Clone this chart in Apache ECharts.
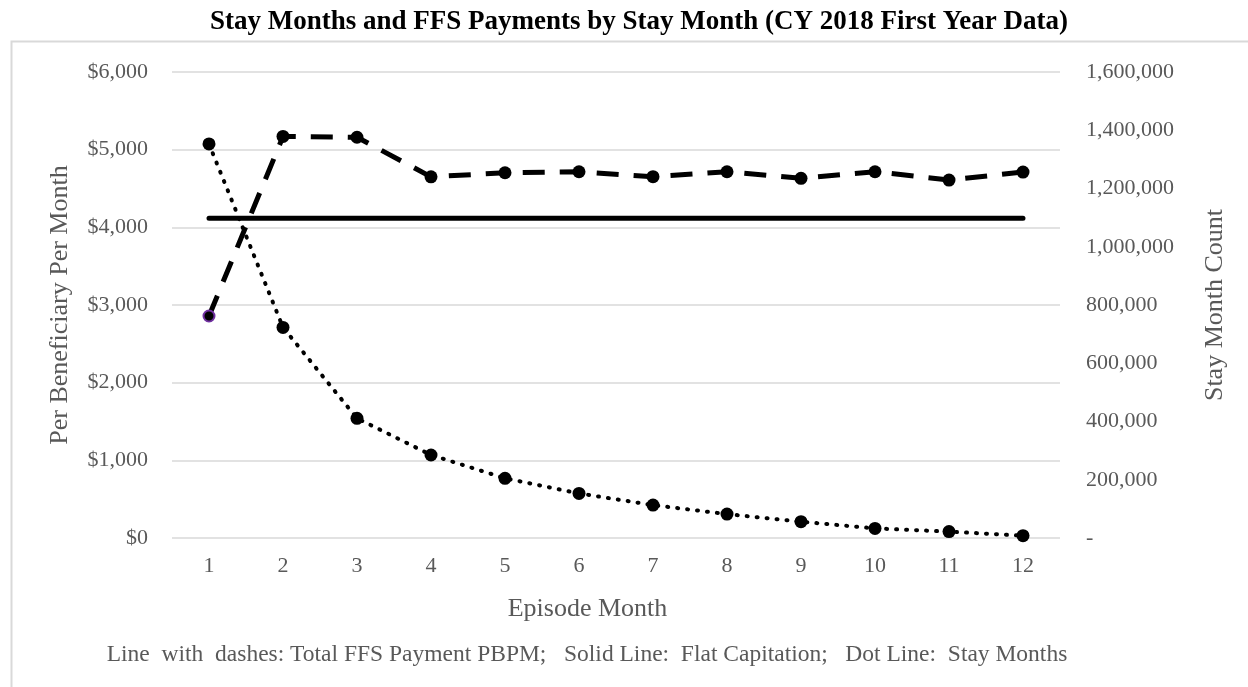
<!DOCTYPE html>
<html>
<head>
<meta charset="utf-8">
<script src="https://cdn.jsdelivr.net/npm/echarts@6/dist/echarts.min.js"></script>
<style>
html,body{margin:0;padding:0;background:#fff;}
#chart{width:1248px;height:687px;}
</style>
</head>
<body>
<div id="chart"></div>
<script>
const months = ['1','2','3','4','5','6','7','8','9','10','11','12'];
const ffsPayment = [2858, 5170, 5160, 4650, 4703, 4716, 4652, 4716, 4631, 4716, 4609, 4712];
const flatCapitation = [4116, 4116, 4116, 4116, 4116, 4116, 4116, 4116, 4116, 4116, 4116, 4116];
const stayMonths = [1353000, 723000, 411000, 285000, 205000, 153000, 113000, 82000, 56000, 33000, 22000, 8000];
const leftTicks = {min: 0, max: 6000, interval: 1000};
const rightTicks = {min: 0, max: 1600000, interval: 200000};

const FONT = '"Liberation Serif", "Times New Roman", serif';
const GRAY = '#595959';

const chart = echarts.init(document.getElementById('chart'), null, {renderer: 'canvas'});
chart.setOption({
  animation: false,
  backgroundColor: '#ffffff',
  title: {
    text: 'Stay Months and FFS Payments by Stay Month (CY 2018 First Year Data)',
    left: 634, top: 4, textAlign: 'center',
    textStyle: {fontFamily: FONT, fontWeight: 'bold', fontSize: 27, color: '#000'}
  },
  graphic: [
    {type: 'rect', silent: true, z: -10,
     shape: {x: 11.5, y: 41.5, width: 1400, height: 800},
     style: {fill: 'none', stroke: '#d9d9d9', lineWidth: 2}},
    {type: 'text', silent: true,
     style: {
       text: 'Line  with  dashes: Total FFS Payment PBPM;   Solid Line:  Flat Capitation;   Dot Line:  Stay Months',
       x: 587, y: 655, align: 'center', verticalAlign: 'middle',
       font: '23.5px ' + FONT, fill: GRAY
     }}
  ],
  grid: {left: 172, right: 188, top: 72, bottom: 149, containLabel: false},
  xAxis: {
    type: 'category', data: months, boundaryGap: true,
    axisLine: {show: false}, axisTick: {show: false},
    axisLabel: {color: GRAY, fontFamily: FONT, fontSize: 22, margin: 17},
    name: 'Episode Month', nameLocation: 'middle', nameGap: 58,
    nameTextStyle: {color: GRAY, fontFamily: FONT, fontSize: 26, padding: [0, 57, 0, 0]}
  },
  yAxis: [
    {
      type: 'value', position: 'left',
      min: leftTicks.min, max: leftTicks.max, interval: leftTicks.interval,
      axisLine: {show: false}, axisTick: {show: false},
      splitLine: {show: true, lineStyle: {color: '#d9d9d9', width: 1.5}},
      axisLabel: {color: GRAY, fontFamily: FONT, fontSize: 22, margin: 24,
        formatter: v => '$' + v.toLocaleString('en-US')},
      name: 'Per Beneficiary Per Month', nameLocation: 'middle', nameGap: 99,
      nameTextStyle: {color: GRAY, fontFamily: FONT, fontSize: 26}
    },
    {
      type: 'value', position: 'right',
      min: rightTicks.min, max: rightTicks.max, interval: rightTicks.interval,
      axisLine: {show: false}, axisTick: {show: false},
      splitLine: {show: false},
      axisLabel: {color: GRAY, fontFamily: FONT, fontSize: 22, margin: 26,
        formatter: v => v === 0 ? '-' : v.toLocaleString('en-US')},
      name: 'Stay Month Count', nameLocation: 'middle', nameGap: 142,
      nameTextStyle: {color: GRAY, fontFamily: FONT, fontSize: 26}
    }
  ],
  series: [
    {
      name: 'Flat Capitation', type: 'line', yAxisIndex: 0,
      data: flatCapitation, showSymbol: false, symbol: 'none',
      lineStyle: {color: '#000', width: 5, cap: 'round'},
      z: 2
    },
    {
      name: 'Stay Months', type: 'line', yAxisIndex: 1,
      data: stayMonths, symbol: 'circle', symbolSize: 13,
      itemStyle: {color: '#000'},
      lineStyle: {color: '#000', width: 4, type: [1, 9], cap: 'round'},
      z: 3
    },
    {
      name: 'Total FFS Payment PBPM', type: 'line', yAxisIndex: 0,
      data: ffsPayment.map((v, i) => i === 0
        ? {value: v, symbolSize: 11, itemStyle: {color: '#000', borderColor: '#7030a0', borderWidth: 2}}
        : v),
      symbol: 'circle', symbolSize: 13,
      itemStyle: {color: '#000'},
      lineStyle: {color: '#000', width: 5, type: [22, 15], cap: 'butt'},
      z: 4
    }
  ]
});
</script>
</body>
</html>
